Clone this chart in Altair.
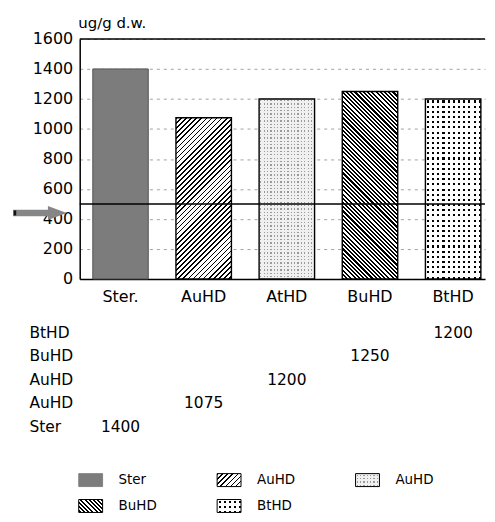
import math
import altair as alt
import pandas as pd

# ---------------- data ----------------
categories = ["Ster.", "AuHD", "AtHD", "BuHD", "BtHD"]
values = [1400, 1075, 1200, 1250, 1200]
bar_styles = ["solid", "hatch_fwd", "stipple", "hatch_back", "dots"]
y_ticks = [0, 200, 400, 600, 800, 1000, 1200, 1400, 1600]
threshold = 500
arrow_level = 440

table_labels = ["BtHD", "BuHD", "AuHD", "AuHD", "Ster"]
table_columns = ["BtHD", "BuHD", "AtHD", "AuHD", "Ster."]
table_values = [1200, 1250, 1200, 1075, 1400]

legend_labels = ["Ster", "AuHD", "AuHD", "BuHD", "BtHD"]
legend_styles = ["solid", "hatch_fwd", "stipple", "hatch_back", "dots"]

# ---------------- layout / style ----------------
W, H = 407, 241
YMAX = 1600
FONT = "DejaVu Sans"
N = len(categories)
STEP = 83.5
BW = 55.7
PAD_IN = 1 - BW / STEP
PAD_OUT = (W / STEP - (N - PAD_IN)) / 2
X_ALIGN = (41 - BW / 2) / (W - STEP * (N - PAD_IN))
SW_W, SW_H = 24.0, 13.0
SPACING = 8
TROW = 23.5
T_TOP_PAD = 6.5
T_H = 147.0
T_PO = (T_H / TROW - len(table_labels)) / 2
T_ALIGN = T_TOP_PAD / (T_H - TROW * len(table_labels))


def grad(stops, x1, y1, x2, y2):
    return alt.LinearGradient(
        gradient="linear",
        stops=[alt.GradientStop(offset=round(min(max(o, 0), 1), 5), color=c) for o, c in stops],
        x1=x1, y1=y1, x2=x2, y2=y2,
    )


def diag(w, h, period, frac, back, dark="#000000", light="#ffffff"):
    L = w + h
    dt = period * math.sqrt(2) / L
    stops = []
    t = 0.0
    while t < 1:
        stops += [(t, dark), (t + dt * frac, dark), (t + dt * frac, light), (t + dt, light)]
        t += dt
    k = (w + h) / (w * w + h * h)
    if back:
        return grad(stops, 1, 0, 1 - w * k, h * k)
    return grad(stops, 0, 0, w * k, h * k)


def bands(length, period, frac, vertical, dark, light):
    dt = period / length
    stops = []
    t = 0.0
    a = (1 - frac) / 2
    while t < 1:
        stops += [(t, light), (t + dt * a, light), (t + dt * a, dark),
                  (t + dt * (a + frac), dark), (t + dt * (a + frac), light), (t + dt, light)]
        t += dt
    if vertical:
        return grad(stops, 0, 0, 1, 0)
    return grad(stops, 0, 0, 0, 1)


def fills(style, w, h):
    if style == "solid":
        return ["#7c7c7c"]
    if style == "hatch_fwd":
        return [diag(w, h, 3.6, 0.34, back=False)]
    if style == "hatch_back":
        return [diag(w, h, 3.0, 0.5, back=True)]
    if style == "dots":
        return [bands(w, 5.2, 0.4, True, "#000000", "#ffffff"),
                bands(h, 5.2, 0.4, False, "rgba(255,255,255,0)", "#ffffff")]
    if style == "stipple":
        return [bands(w, 3.4, 0.4, True, "#9a9a9a", "#f0f0f0"),
                bands(h, 3.4, 0.4, False, "rgba(240,240,240,0)", "#f0f0f0")]


# ---------------- top chart ----------------
xscale = alt.Scale(domain=categories, paddingInner=PAD_IN, paddingOuter=PAD_OUT, align=X_ALIGN)
yscale = alt.Scale(domain=[0, YMAX], nice=False)
xaxis = alt.Axis(title=None, labelAngle=0, ticks=False, labelPadding=10, labelFont=FONT,
                 labelFontSize=16, labelColor="#000", domainColor="#000", domainWidth=1.5,
                 grid=False)
yaxis = alt.Axis(values=y_ticks, format="d", title="ug/g d.w.", titleAngle=0, titleAlign="left",
                 titleBaseline="alphabetic", titleX=-2, titleY=-11, titleFont=FONT,
                 titleFontSize=15, titleFontWeight="normal", titleColor="#000",
                 ticks=False, labelPadding=7, labelFont=FONT, labelFontSize=16,
                 labelColor="#000", domainColor="#000", domainWidth=1.5,
                 grid=True, gridDash=[3, 4], gridColor="#8a8a8a", gridWidth=0.8)
xenc = alt.X("cat:N", scale=xscale, axis=xaxis)
yenc = alt.Y("val:Q", scale=yscale, axis=yaxis)

bar_df = pd.DataFrame({"cat": categories, "val": values})
base = alt.Chart(bar_df).encode(x=xenc, y=yenc)

layers = []
for cat, v, st in zip(categories, values, bar_styles):
    h = v * H / YMAX
    fl = fills(st, BW, h)
    for i, f in enumerate(fl):
        last = i == len(fl) - 1
        props = dict(fill=f, opacity=1)
        if last:
            if st == "solid":
                props.update(stroke="#555555", strokeWidth=1)
            else:
                props.update(stroke="#000000", strokeWidth=1.4)
        layers.append(base.transform_filter(alt.datum.cat == cat).mark_bar(**props))

rule_df = pd.DataFrame({"val": [YMAX, threshold]})
rules = alt.Chart(rule_df).mark_rule(color="#000", strokeWidth=1.4).encode(y=yenc)

arrow_df = pd.DataFrame({"val": [arrow_level]})
arrow_path = "M-1,-0.12L0.3,-0.12L0.3,-0.26L1,0L0.3,0.26L0.3,0.12L-1,0.12Z"
arrow = alt.Chart(arrow_df).mark_point(
    shape=arrow_path, size=54 * 54, filled=True, color="#868686", opacity=1
).encode(x=alt.value(-40), y=yenc)
arrow_tail = alt.Chart(arrow_df).mark_point(
    shape="M-0.25,-0.5L0.25,-0.5L0.25,0.5L-0.25,0.5Z", size=100, filled=True,
    color="#111111", opacity=1
).encode(x=alt.value(-65), y=yenc)

top = alt.layer(*layers, rules, arrow, arrow_tail).properties(width=W, height=H)

# ---------------- table ----------------
row_ids = [f"r{i}" for i in range(len(table_labels))]
label_map = "{" + ",".join(f"'{r}':'{l}'" for r, l in zip(row_ids, table_labels)) + "}"
table_df = pd.DataFrame({"row": row_ids, "col": table_columns, "val": table_values})
table = alt.Chart(table_df).mark_text(font=FONT, fontSize=15.5, color="#000").encode(
    x=alt.X("col:N", scale=alt.Scale(type="band", domain=categories, paddingInner=PAD_IN,
                                     paddingOuter=PAD_OUT, align=X_ALIGN), axis=None),
    y=alt.Y("row:N", scale=alt.Scale(type="band", domain=row_ids, paddingInner=0,
                                     paddingOuter=T_PO, align=T_ALIGN),
            axis=alt.Axis(title=None, labelExpr=f"{label_map}[datum.value]", ticks=False,
                          domain=False, labelAlign="left", labelPadding=51, labelFont=FONT,
                          labelFontSize=15.5, labelColor="#000", grid=False)),
    text=alt.Text("val:Q", format="d"),
).properties(width=W, height=T_H)

# ---------------- legend ----------------
leg_df = pd.DataFrame({
    "idx": list(range(len(legend_labels))),
    "label": legend_labels,
    "col": [i % 3 for i in range(len(legend_labels))],
    "row": [i // 3 for i in range(len(legend_labels))],
})
lx = alt.X("col:Q", scale=alt.Scale(domain=[0, 3], nice=False, range=[0, 3 * 139]), axis=None)
ly = alt.Y("row:O", scale=alt.Scale(type="point", domain=[0, 1], padding=0), axis=None)
leg_base = alt.Chart(leg_df).encode(x=lx, y=ly)
sw_path = "M-1,-%.3fL1,-%.3fL1,%.3fL-1,%.3fZ" % ((SW_H / SW_W,) * 4)
leg_layers = []
for i, st in enumerate(legend_styles):
    fl = fills(st, SW_W, SW_H)
    for j, f in enumerate(fl):
        last = j == len(fl) - 1
        props = dict(shape=sw_path, size=SW_W * SW_W, filled=True, fill=f, opacity=1,
                     xOffset=SW_W / 2 - 1)
        if last:
            if st == "solid":
                props.update(stroke="#777777", strokeWidth=0.8)
            else:
                props.update(stroke="#000000", strokeWidth=1)
        else:
            props.update(strokeWidth=0)
        leg_layers.append(leg_base.transform_filter(alt.datum.idx == i).mark_point(**props))
leg_text = leg_base.mark_text(align="left", baseline="middle", dx=39, font=FONT,
                              fontSize=13.5, color="#000").encode(text="label:N")
legend = alt.layer(*leg_layers, leg_text).properties(width=W, height=26)

chart = alt.vconcat(top, table, legend, spacing=SPACING).properties(
    padding={"left": 4, "top": 6, "right": 0, "bottom": 0}
).configure_view(stroke="transparent")

chart.save("out.html", embed_options={"renderer": "svg", "actions": False})
